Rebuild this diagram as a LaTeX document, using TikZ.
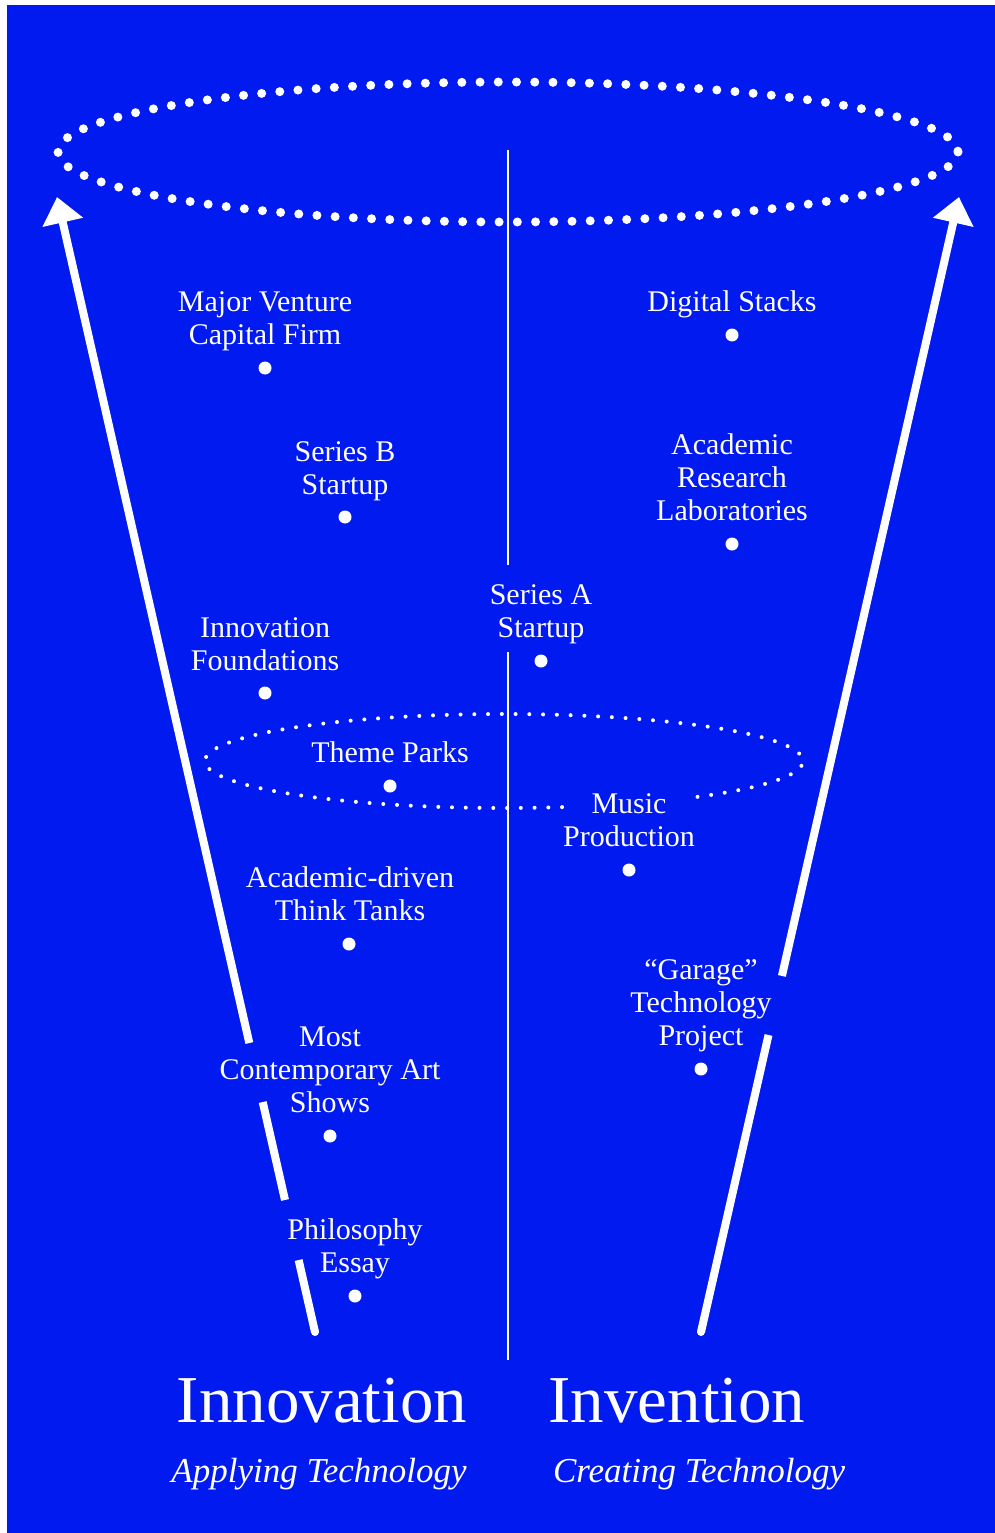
\documentclass[tikz,border=0pt]{standalone}
\usepackage{fontspec}
\setmainfont{Liberation Serif}
\usetikzlibrary{arrows.meta,calc}
\definecolor{bgblue}{RGB}{0,26,240}
\begin{document}
\begin{tikzpicture}[x=1pt,y=-1pt,
  lbl/.style={text=white, font=\fontsize{30}{33}\selectfont, anchor=base, inner sep=0pt},
  dotn/.style={circle, fill=white, inner sep=0pt, minimum size=13pt},
  ttl/.style={text=white, font=\fontsize{67}{70}\selectfont, anchor=base, inner sep=0pt},
  sub/.style={text=white, font=\fontsize{35}{40}\selectfont\itshape, anchor=base, inner sep=0pt},
  shaft/.style={white, line width=8pt},
  bigdots/.style={white, line width=9pt, line cap=round, dash pattern=on 0pt off 18.23pt},
  smalldots/.style={white, line width=4pt, line cap=round, dash pattern=on 0pt off 13.76pt},
  axisline/.style={white, line width=2.2pt}]

\useasboundingbox (0,0) rectangle (995,1533);
\fill[white] (0,0) rectangle (995,1533);
\fill[bgblue] (7,5) rectangle (995,1533);

% dotted ellipses
\draw[bigdots] (508,152) ellipse [x radius=450, y radius=70];
\draw[smalldots] plot[domain=78.8:410, samples=400, variable=\t] ({504+299*cos(\t)},{761+47*sin(\t)});

% central axis
\coordinate (vTop) at (508,150);
\coordinate (vA) at (508,565);
\coordinate (vB) at (508,652);
\coordinate (vBot) at (508,1360);
\draw[axisline] (vTop) -- (vA);
\draw[axisline] (vB) -- (vBot);

% left arrow
\coordinate (LB) at (315,1332);
\coordinate (LT) at (57,197);
\draw[shaft] (LB) -- ($(LB)!0.0634!(LT)$);
\draw[shaft] ($(LB)!0.1163!(LT)$) -- ($(LB)!0.2026!(LT)$);
\draw[shaft, -{Triangle[length=26pt,width=40pt]}] ($(LB)!0.2546!(LT)$) -- (LT);
\fill[white] (LB) circle[radius=4];

% right arrow
\coordinate (RB) at (701,1332);
\coordinate (RT) at (959,197);
\draw[shaft] (RB) -- ($(RB)!0.2617!(RT)$);
\draw[shaft, -{Triangle[length=26pt,width=40pt]}] ($(RB)!0.3137!(RT)$) -- (RT);
\fill[white] (RB) circle[radius=4];

% left labels
\node[lbl] (mvA) at (265,311) {Major Venture};
\node[lbl] (mvB) at (265,344) {Capital Firm};
\node[dotn] (mvD) at (265,368) {};

\node[lbl] (sbA) at (345,461) {Series B};
\node[lbl] (sbB) at (345,494) {Startup};
\node[dotn] (sbD) at (345,517) {};

\node[lbl] (ifA) at (265,637) {Innovation};
\node[lbl] (ifB) at (265,670) {Foundations};
\node[dotn] (ifD) at (265,693) {};

\node[lbl] (tp) at (390,762) {Theme Parks};
\node[dotn] (tpD) at (390,786) {};

\node[lbl] (atA) at (350,887) {Academic-driven};
\node[lbl] (atB) at (350,920) {Think Tanks};
\node[dotn] (atD) at (349,944) {};

\node[lbl] (caA) at (330,1046) {Most};
\node[lbl] (caB) at (330,1079) {Contemporary Art};
\node[lbl] (caC) at (330,1112) {Shows};
\node[dotn] (caD) at (330,1136) {};

\node[lbl] (peA) at (355,1239) {Philosophy};
\node[lbl] (peB) at (355,1272) {Essay};
\node[dotn] (peD) at (355,1296) {};

% right labels
\node[lbl] (ds) at (732,311) {Digital Stacks};
\node[dotn] (dsD) at (732,335) {};

\node[lbl] (arA) at (732,454) {Academic};
\node[lbl] (arB) at (732,487) {Research};
\node[lbl] (arC) at (732,520) {Laboratories};
\node[dotn] (arD) at (732,544) {};

\node[lbl] (saA) at (541,604) {Series A};
\node[lbl] (saB) at (541,637) {Startup};
\node[dotn] (saD) at (541,661) {};

\node[lbl] (mpA) at (629,813) {Music};
\node[lbl] (mpB) at (629,846) {Production};
\node[dotn] (mpD) at (629,870) {};

\node[lbl] (gtA) at (701,979) {“Garage”};
\node[lbl] (gtB) at (701,1012) {Technology};
\node[lbl] (gtC) at (701,1045) {Project};
\node[dotn] (gtD) at (701,1069) {};

% titles
\node[ttl] (inno) at (322,1422) {Innovation};
\node[ttl] (inve) at (677,1422) {Invention};
\node[sub] (apply) at (319,1482) {Applying Technology};
\node[sub] (create) at (699,1482) {Creating Technology};
\end{tikzpicture}
\end{document}
